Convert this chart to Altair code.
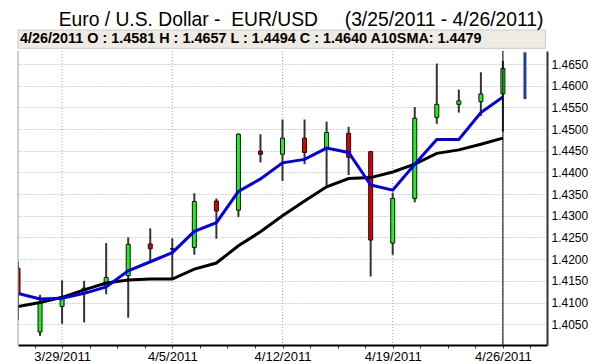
import altair as alt
import pandas as pd

# ---- data ----
dates = ["3/25/2011", "3/28/2011", "3/29/2011", "3/30/2011", "3/31/2011", "4/1/2011",
         "4/4/2011", "4/5/2011", "4/6/2011", "4/7/2011", "4/8/2011", "4/11/2011",
         "4/12/2011", "4/13/2011", "4/14/2011", "4/15/2011", "4/18/2011", "4/19/2011",
         "4/20/2011", "4/21/2011", "4/22/2011", "4/25/2011", "4/26/2011"]
opens = [1.4179, 1.4032, 1.4091, 1.4121, 1.4138, 1.4162, 1.4235, 1.4224, 1.4227, 1.4334,
         1.4313, 1.4449, 1.4442, 1.4479, 1.4456, 1.4490, 1.4448, 1.4237, 1.4340, 1.4527,
         1.4557, 1.4563, 1.4581]
highs = [1.4194, 1.4118, 1.4151, 1.4150, 1.4237, 1.4250, 1.4271, 1.4248, 1.4352, 1.4340,
         1.4490, 1.4488, 1.4522, 1.4522, 1.4517, 1.4505, 1.4449, 1.4353, 1.4551, 1.4651,
         1.4591, 1.4631, 1.4657]
lows = [1.4060, 1.4023, 1.4051, 1.4054, 1.4119, 1.4065, 1.4196, 1.4154, 1.4210, 1.4247,
        1.4297, 1.4423, 1.4380, 1.4419, 1.4369, 1.4394, 1.4160, 1.4210, 1.4331, 1.4512,
        1.4538, 1.4530, 1.4494]
closes = [1.4122, 1.4100, 1.4113, 1.4133, 1.4158, 1.4234, 1.4224, 1.4223, 1.4333, 1.4311,
          1.4488, 1.4442, 1.4479, 1.4446, 1.4492, 1.4435, 1.4244, 1.4340, 1.4525, 1.4557,
          1.4565, 1.4581, 1.4640]
sma_fast = [1.4121, 1.4108, 1.4110, 1.4121, 1.4136, 1.4173, 1.4194, 1.4215, 1.4264, 1.4284,
            1.4356, 1.4385, 1.4422, 1.4430, 1.4456, 1.4446, 1.4371, 1.4359, 1.4419, 1.4476,
            1.4476, 1.4538, 1.4574]
sma10 = [1.4091, 1.4100, 1.4112, 1.4129, 1.4145, 1.4152, 1.4154, 1.4154, 1.4177, 1.4191,
         1.4231, 1.4263, 1.4300, 1.4334, 1.4367, 1.4386, 1.4388, 1.4401, 1.4419, 1.4444,
         1.4452, 1.4465, 1.4479]
marker_range = [1.4569, 1.4677]          # range marker drawn in the slot after the last day
y_ticks = [1.4050, 1.4100, 1.4150, 1.4200, 1.4250, 1.4300, 1.4350, 1.4400, 1.4450,
           1.4500, 1.4550, 1.4600, 1.4650]
x_label_pos = [2, 7, 12, 17, 22]
x_labels = ["3/29/2011", "4/5/2011", "4/12/2011", "4/19/2011", "4/26/2011"]
x_minor_ticks = [0.75 + 1.25 * k for k in range(19)]

title_text = "Euro / U.S. Dollar -\u00a0 EUR/USD\u00a0\u00a0\u00a0\u00a0 (3/25/2011 - 4/26/2011)"

# ---- tables ----
n = len(dates)
df = pd.DataFrame({
    "i": list(range(n)), "date": dates, "open": opens, "high": highs,
    "low": lows, "close": closes, "sma_fast": sma_fast, "sma10": sma10,
})
df["dir"] = ["up" if c >= o else "down" for o, c in zip(opens, closes)]

last = n - 1
info = (f"{dates[last]} O : {opens[last]:.4f} H : {highs[last]:.4f} "
        f"L : {lows[last]:.4f} C : {closes[last]:.4f} A10SMA: {sma10[last]:.4f}")
info_df = pd.DataFrame({"label": [info], "title": [title_text]})
cross_df = pd.DataFrame({"i": [last]})
marker_df = pd.DataFrame({"i": [last + 1], "lo": [marker_range[0]], "hi": [marker_range[1]]})
vgrid_df = pd.DataFrame({"i": x_label_pos})

FONT = "Liberation Sans"
xs = alt.Scale(domain=[0, 24], nice=False, zero=False, padding=0)
ys = alt.Scale(domain=[1.4002, 1.4680], nice=False, zero=False, padding=0)

label_expr = " : ".join(
    f"datum.value == {p} ? '{l}'" for p, l in zip(x_label_pos, x_labels)) + " : ''"

x_axis = alt.Axis(
    values=x_minor_ticks, labelExpr=label_expr, labelOverlap=False, labelFlush=False,
    grid=False, ticks=True, tickSize=3, tickColor="#333333",
    domainColor="#000000", domainWidth=2,
    labelPadding=2, labelFontSize=13, labelFont=FONT, labelColor="#000000", title=None,
)
y_axis = alt.Axis(
    orient="right", values=y_ticks, format=".4f", grid=True, gridDash=[1, 2],
    gridColor="#a8a8a8", ticks=False, domainColor="#333333", domainWidth=2,
    labelPadding=4, labelFontSize=12, labelFont=FONT, labelColor="#000000", title=None,
)


def X(field):
    return alt.X(field, type="quantitative", scale=xs, axis=x_axis)


def Y(field):
    return alt.Y(field, type="quantitative", scale=ys, axis=y_axis)


base = alt.Chart(df)

vgrid = alt.Chart(vgrid_df).mark_rule(color="#a8a8a8", strokeWidth=1, strokeDash=[1, 2]).encode(
    x=X("i"),
)
wicks = base.mark_rule(color="#333333", strokeWidth=2, clip=True).encode(
    x=X("i"), y=Y("low"), y2="high",
)
bodies = base.mark_bar(size=4, stroke="#111111", strokeWidth=1, clip=True).encode(
    x=X("i"), y=Y("open"), y2="close",
    color=alt.Color("dir:N", scale=alt.Scale(domain=["up", "down"],
                                             range=["#22ee22", "#dd0000"]), legend=None),
)
slow_line = base.mark_line(color="#000000", strokeWidth=3, clip=True).encode(
    x=X("i"), y=Y("sma10"),
)
fast_line = base.mark_line(color="#0000ee", strokeWidth=3, clip=True).encode(
    x=X("i"), y=Y("sma_fast"),
)
crosshair = alt.Chart(cross_df).mark_rule(color="#000000", strokeWidth=1).encode(
    x=X("i"),
)
marker = alt.Chart(marker_df).mark_rule(color="#23408e", strokeWidth=3).encode(
    x=X("i"), y=Y("lo"), y2="hi",
)
left_border = alt.Chart(info_df).mark_rule(color="#a0a0a0", strokeWidth=1).encode(
    x=alt.value(0),
)
info_rect = alt.Chart(info_df).mark_rect(fill="#edebe3", stroke="#cfccc0", strokeWidth=1).encode(
    x=alt.value(0), x2=alt.value(527.5), y=alt.value(-21), y2=alt.value(-2.7),
)
info_text = alt.Chart(info_df).mark_text(
    align="left", baseline="alphabetic", font=FONT, fontSize=14.4, fontWeight="bold",
    color="#000000").encode(
    x=alt.value(2), y=alt.value(-7.7), text="label:N",
)
title_mark = alt.Chart(info_df).mark_text(
    align="center", baseline="alphabetic", font=FONT, fontSize=19.3,
    color="#000000").encode(
    x=alt.value(283), y=alt.value(-25.5), text="title:N",
)

chart = alt.layer(
    vgrid, wicks, bodies, slow_line, fast_line, crosshair, marker, left_border,
    info_rect, info_text, title_mark
).properties(
    width=529, height=294,
    autosize=alt.AutoSizeParams(type="none"),
    padding={"left": 10, "top": 43, "right": 41, "bottom": 19},
).configure(font=FONT, background="#ffffff").configure_view(strokeWidth=0)

chart.save("out.html", embed_options={"renderer": "svg", "actions": False})
